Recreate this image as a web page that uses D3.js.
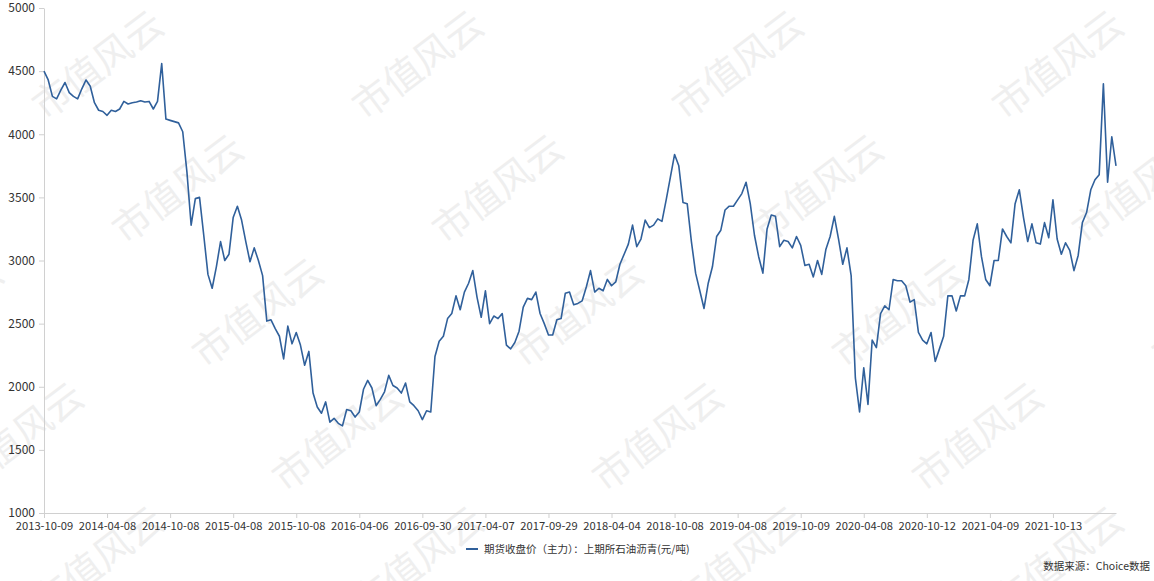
<!DOCTYPE html>
<html>
<head>
<meta charset="utf-8">
<script src="https://cdn.jsdelivr.net/npm/d3@7"></script>
<style>
  body { margin: 0; background: #fff; }
  svg { display: block; font-family: "Noto Sans CJK SC", "Noto Sans", sans-serif; }
</style>
</head>
<body>
<div id="chart"></div>
<script>
// 期货收盘价（主力）：上期所石油沥青，大约每 8 个交易日读一个点
const closePrices = [
  4500, 4430, 4300, 4280, 4350, 4410, 4330, 4300, 4280, 4360,
  4430, 4380, 4250, 4190, 4180, 4150, 4190, 4180, 4200, 4260,
  4240, 4250, 4255, 4265, 4255, 4260, 4200, 4260, 4560, 4120,
  4110, 4100, 4090, 4020, 3700, 3280, 3490, 3500, 3200, 2890,
  2780, 2950, 3150, 3000, 3050, 3340, 3430, 3320, 3150, 2990,
  3100, 3000, 2880, 2520, 2530, 2460, 2400, 2220, 2480, 2340,
  2430, 2330, 2170, 2280, 1950, 1840, 1790, 1880, 1720, 1750,
  1710, 1690, 1820, 1810, 1760, 1800, 1980, 2050, 1990, 1850,
  1900, 1960, 2090, 2010, 1990, 1950, 2030, 1880, 1850, 1810,
  1740, 1810, 1800, 2240, 2360, 2400, 2540, 2580, 2720, 2610,
  2750, 2820, 2920, 2710, 2550, 2760, 2500, 2560, 2540, 2580,
  2330, 2300, 2350, 2440, 2630, 2700, 2690, 2750, 2580, 2500,
  2410, 2410, 2530, 2540, 2740, 2750, 2650, 2660, 2680, 2790,
  2920, 2750, 2780, 2760, 2850, 2800, 2830, 2970, 3050, 3130,
  3280, 3110, 3170, 3320, 3260, 3280, 3330, 3310, 3480, 3660,
  3840, 3750, 3460, 3450, 3150, 2900, 2760, 2620, 2820, 2950,
  3190, 3240, 3400, 3430, 3430, 3480, 3530, 3620, 3450, 3200,
  3030, 2900, 3250, 3360, 3350, 3110, 3160, 3150, 3100, 3190,
  3120, 2960, 2970, 2870, 3000, 2890, 3090, 3190, 3350, 3170,
  2970, 3100, 2880, 2070, 1800, 2150, 1860, 2370, 2310, 2580,
  2640, 2610, 2850, 2840, 2840, 2800, 2670, 2690, 2430, 2370,
  2340, 2430, 2200, 2300, 2400, 2720, 2720, 2600, 2720, 2720,
  2850, 3160, 3290, 3030, 2850, 2800, 3000, 3000, 3250, 3190,
  3140, 3450, 3560, 3340, 3150, 3290, 3140, 3130, 3300, 3180,
  3480, 3170, 3050, 3140, 3080, 2920, 3040, 3300, 3380, 3560,
  3640, 3680, 4400, 3620, 3980, 3750
];

// 横轴日期标签，每 15 个点一个
const tickLabels = [
  "2013-10-09", "2014-04-08", "2014-10-08", "2015-04-08", "2015-10-08",
  "2016-04-06", "2016-09-30", "2017-04-07", "2017-09-29", "2018-04-04",
  "2018-10-08", "2019-04-08", "2019-10-09", "2020-04-08", "2020-10-12",
  "2021-04-09", "2021-10-13"
];
const tickEvery = 15;

const yTicks = [1000, 1500, 2000, 2500, 3000, 3500, 4000, 4500, 5000];
const seriesName = "期货收盘价（主力）：上期所石油沥青(元/吨)";
const sourceText = "数据来源：Choice数据";
const watermark = "市值风云";

const W = 1154, H = 581;
const margin = { top: 8, right: 38, bottom: 68, left: 44 };
const width = W - margin.left - margin.right;
const height = H - margin.top - margin.bottom;
const lineColor = "#30609b";

const svg = d3.select("#chart")
  .append("svg")
  .attr("width", W)
  .attr("height", H);

svg.append("rect").attr("width", W).attr("height", H).attr("fill", "#fff");

// 水印
const wm = svg.append("g").attr("class", "watermark");
for (let row = 0; row < 5; row++) {
  const cy = 65 + row * 124;
  const x0 = (98 + row * 80) % 320;
  for (let cx = x0 - 320; cx < W + 200; cx += 320) {
    wm.append("text")
      .attr("transform", `translate(${cx}, ${cy}) rotate(-37)`)
      .attr("text-anchor", "middle")
      .attr("dy", "0.35em")
      .style("font-size", "38px")
      .style("fill", "#efefef")
      .text(watermark);
  }
}

const g = svg.append("g")
  .attr("transform", `translate(${margin.left}, ${margin.top})`);

const x = d3.scaleLinear()
  .domain([0, closePrices.length - 1])
  .range([0, width]);

const y = d3.scaleLinear()
  .domain([d3.min(yTicks), d3.max(yTicks)])
  .range([height, 0]);

// 纵轴
const yAxis = g.append("g")
  .call(d3.axisLeft(y)
    .tickValues(yTicks)
    .tickFormat(d3.format("d"))
    .tickSize(5)
    .tickSizeOuter(0)
    .tickPadding(4));

// 横轴
const xAxis = g.append("g")
  .attr("transform", `translate(0, ${height})`)
  .call(d3.axisBottom(x)
    .tickValues(tickLabels.map((d, i) => i * tickEvery))
    .tickFormat((d, i) => tickLabels[i])
    .tickSize(5)
    .tickSizeOuter(0)
    .tickPadding(4));

[yAxis, xAxis].forEach(ax => {
  ax.select(".domain").attr("stroke", "#d0d0d0");
  ax.selectAll(".tick line").attr("stroke", "#d0d0d0");
  ax.selectAll(".tick text")
    .style("font-family", "'Noto Sans CJK SC', sans-serif")
    .style("fill", "#333");
});
yAxis.selectAll(".tick text").style("font-size", "12px");
xAxis.selectAll(".tick text").style("font-size", "11.2px");

// 折线
const line = d3.line()
  .x((d, i) => x(i))
  .y(d => y(d));

g.append("path")
  .datum(closePrices)
  .attr("fill", "none")
  .attr("stroke", lineColor)
  .attr("stroke-width", 1.6)
  .attr("stroke-linejoin", "round")
  .attr("d", line);

// 图例
const legend = svg.append("g").attr("transform", "translate(466, 549)");
legend.append("line")
  .attr("x1", 0).attr("x2", 12)
  .attr("stroke", lineColor)
  .attr("stroke-width", 2);
legend.append("text")
  .attr("x", 18)
  .attr("dy", "0.35em")
  .style("font-size", "10.5px")
  .style("fill", "#333")
  .text(seriesName);

// 数据来源
svg.append("text")
  .attr("x", W - 4)
  .attr("y", 566)
  .attr("dy", "0.35em")
  .attr("text-anchor", "end")
  .style("font-size", "10.5px")
  .style("fill", "#333")
  .text(sourceText);
</script>
</body>
</html>
